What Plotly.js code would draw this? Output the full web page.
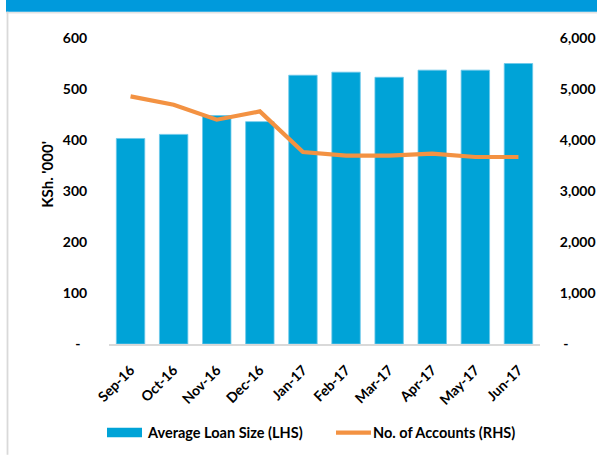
<!DOCTYPE html>
<html>
<head>
<meta charset="utf-8">
<script src="https://cdn.plot.ly/plotly-3.0.1.min.js"></script>
<style>html,body{margin:0;padding:0;background:#fff;}#chart{width:597px;height:455px;}</style>
</head>
<body>
<div id="chart"></div>
<script>
var months = ["Sep-16","Oct-16","Nov-16","Dec-16","Jan-17","Feb-17","Mar-17","Apr-17","May-17","Jun-17"];
var avgLoanSize = [403, 411, 448, 436, 527, 533, 523, 537, 537, 550];
var noOfAccounts = [4855, 4692, 4398, 4561, 3765, 3692, 3692, 3731, 3667, 3667];
var leftTickVals = [0, 100, 200, 300, 400, 500, 600];
var leftTickText = ["-\u00a0\u00a0", "100", "200", "300", "400", "500", "600"];
var rightTickVals = [0, 1000, 2000, 3000, 4000, 5000, 6000];
var rightTickText = ["\u00a0-", "1,000", "2,000", "3,000", "4,000", "5,000", "6,000"];
var barName = "Average Loan Size (LHS)";
var lineName = "No. of Accounts (RHS)";
var yTitle = "KSh. '000'";

var L = 109, R = 540, T = 38.3, B = 344.3;
function fx(px){ return (px - L) / (R - L); }
function fy(py){ return (B - py) / (B - T); }

var FONT = "Lato, 'Open Sans', sans-serif";
var blue = "#00A3D7", orange = "#F39242";
var tf = {family: FONT, size: 14, color: "#000", weight: "bold"};

var traces = [
  {type: "bar", x: months, y: avgLoanSize, name: barName, yaxis: "y",
   marker: {color: blue, line: {color: "#6CC8EA", width: 0.8}}, width: 0.66},
  {type: "scatter", mode: "lines", x: months, y: noOfAccounts, name: lineName, yaxis: "y2",
   line: {color: orange, width: 4.2}}
];

var layout = {
  width: 597, height: 455,
  margin: {l: L, r: 597 - R, t: T, b: 455 - B},
  paper_bgcolor: "#ffffff", plot_bgcolor: "#ffffff",
  showlegend: false,
  font: {family: FONT, size: 14, color: "#000"},
  xaxis: {type: "category", range: [-0.5, 9.5], tickangle: -45, showgrid: false,
          showline: true, linecolor: "#D9D9D9", linewidth: 1.5,
          ticks: "outside", ticklen: 11, tickcolor: "rgba(0,0,0,0)",
          tickfont: tf, fixedrange: true},
  yaxis: {range: [0, 600], tickvals: leftTickVals, ticktext: leftTickText, showgrid: false,
          zeroline: false, showline: false, ticks: "outside", ticklen: 18, tickcolor: "rgba(0,0,0,0)",
          tickfont: tf},
  yaxis2: {range: [0, 6000], overlaying: "y", side: "right", tickvals: rightTickVals, ticktext: rightTickText,
          showgrid: false, zeroline: false, showline: false, ticks: "outside", ticklen: 16, tickcolor: "rgba(0,0,0,0)",
          tickfont: tf},
  shapes: [
    {type: "rect", xref: "paper", yref: "paper", x0: fx(6), x1: fx(597), y0: fy(12), y1: fy(0), fillcolor: "#009ADC", line: {width: 0}, layer: "below"},
    {type: "line", xref: "paper", yref: "paper", x0: fx(6), x1: fx(597), y0: fy(13), y1: fy(13), line: {color: "#E3E3E3", width: 1.5}},
    {type: "line", xref: "paper", yref: "paper", x0: fx(7.5), x1: fx(7.5), y0: fy(12), y1: fy(455), line: {color: "#D9D9D9", width: 1.8}},
    {type: "rect", xref: "paper", yref: "paper", x0: fx(107), x1: fx(142), y0: fy(437.5), y1: fy(428), fillcolor: blue, line: {width: 0}},
    {type: "line", xref: "paper", yref: "paper", x0: fx(336), x1: fx(371), y0: fy(433), y1: fy(433), line: {color: orange, width: 4.2}}
  ],
  annotations: [
    {xref: "paper", yref: "paper", x: fx(47), y: fy(175), text: yTitle, textangle: -90, showarrow: false,
     font: {family: FONT, size: 15, color: "#000", weight: "bold"}, xanchor: "center", yanchor: "middle"},
    {xref: "paper", yref: "paper", x: fx(145), y: fy(433), text: barName, showarrow: false,
     font: {family: FONT, size: 14.5, color: "#000", weight: "bold"}, xanchor: "left", yanchor: "middle"},
    {xref: "paper", yref: "paper", x: fx(371), y: fy(433), text: lineName, showarrow: false,
     font: {family: FONT, size: 14.5, color: "#000", weight: "bold"}, xanchor: "left", yanchor: "middle"}
  ]
};

Plotly.newPlot("chart", traces, layout, {displayModeBar: false, staticPlot: true});
</script>
</body>
</html>
